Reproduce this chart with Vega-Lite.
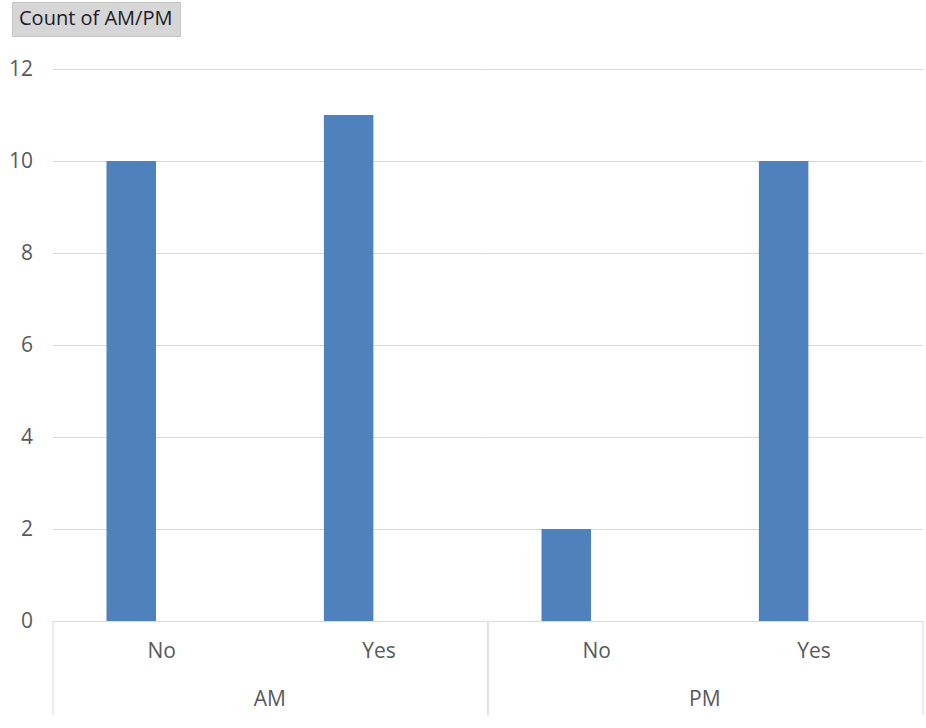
{
  "$schema": "https://vega.github.io/schema/vega-lite/v6.json",
  "padding": {"left": 7.5, "top": 1, "right": 0, "bottom": 0},
  "background": "#ffffff",
  "config": {
    "font": "Open Sans",
    "view": {"stroke": null},
    "axis": {"labelFont": "Open Sans", "labelFontSize": 21, "labelColor": "#595959", "titleFontSize": 21}
  },
  "data": {
    "values": [
      {"period": "AM", "answer": "No", "series": "Count of AM/PM", "count": 10},
      {"period": "AM", "answer": "Yes", "series": "Count of AM/PM", "count": 11},
      {"period": "PM", "answer": "No", "series": "Count of AM/PM", "count": 2},
      {"period": "PM", "answer": "Yes", "series": "Count of AM/PM", "count": 10}
    ]
  },
  "spacing": 0,
  "facet": {
    "column": {
      "field": "period",
      "type": "nominal",
      "header": {
        "title": null,
        "labelOrient": "bottom",
        "labelFont": "Open Sans",
        "labelFontSize": 21,
        "labelColor": "#595959",
        "labelPadding": -27
      }
    }
  },
  "spec": {
    "width": 434.75,
    "height": 552,
    "mark": {"type": "bar"},
    "encoding": {
      "x": {
        "field": "answer",
        "type": "nominal",
        "scale": {"paddingInner": 0, "paddingOuter": 0},
        "axis": {
          "title": null,
          "labelAngle": 0,
          "tickBand": "extent",
          "tickSize": 94,
          "tickColor": {"condition": {"test": "datum.value === 'No'", "value": "transparent"}, "value": "#d9d9d9"},
          "domainColor": "#d9d9d9",
          "labelPadding": -75,
          "labelBaseline": "top",
          "grid": false
        }
      },
      "xOffset": {
        "field": "series",
        "type": "nominal",
        "scale": {"domain": ["Count of AM/PM", "Blank"], "paddingInner": 0.1733, "paddingOuter": 0.9019}
      },
      "y": {
        "field": "count",
        "type": "quantitative",
        "scale": {"domain": [0, 12]},
        "axis": {
          "title": null,
          "values": [0, 2, 4, 6, 8, 10, 12],
          "ticks": false,
          "domain": false,
          "labelPadding": 20,
          "gridColor": "#d9d9d9"
        }
      },
      "color": {
        "field": "series",
        "type": "nominal",
        "scale": {"domain": ["Count of AM/PM"], "range": ["#4f81bd"]},
        "legend": {
          "title": null,
          "orient": "none",
          "legendX": -40.5,
          "legendY": -67,
          "fillColor": "#d6d6d6",
          "strokeColor": "#c4c4c4",
          "padding": 7,
          "cornerRadius": 0,
          "symbolSize": 0,
          "symbolOpacity": 0,
          "symbolStrokeWidth": 0,
          "labelOffset": -20,
          "labelFont": "Open Sans",
          "labelFontSize": 20,
          "labelColor": "#1b1b2b",
          "labelLimit": 300
        }
      }
    }
  }
}
